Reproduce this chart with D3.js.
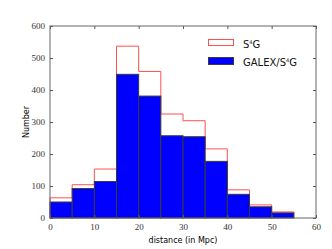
<!DOCTYPE html>
<html>
<head>
<meta charset="utf-8">
<script src="https://cdn.jsdelivr.net/npm/d3@7"></script>
<style>
body { margin: 0; background: #fff; }
svg { display: block; }
.tick text { font-family: "Liberation Serif", "DejaVu Serif", serif; font-size: 9px; fill: #333; }
</style>
</head>
<body>
<div id="container"></div>
<script>
// bin edges in Mpc, width 5
var binStart = [0, 5, 10, 15, 20, 25, 30, 35, 40, 45, 50];
var s4g =      [63, 104, 153, 537, 458, 325, 304, 216, 88, 41, 19];
var galex =    [50, 92, 114, 449, 381, 257, 254, 177, 74, 35, 16];
var xTicks = [0, 10, 20, 30, 40, 50, 60];
var yTicks = [0, 100, 200, 300, 400, 500, 600];
var binWidth = 5;

var width = 332, height = 249;
var margin = {top: 26, right: 16, bottom: 31, left: 50};
var w = width - margin.left - margin.right;
var h = height - margin.top - margin.bottom;

var svg = d3.select("div#container").append("svg")
    .attr("width", width).attr("height", height);
var g = svg.append("g").attr("transform", "translate(" + margin.left + "," + margin.top + ")");

var x = d3.scaleLinear().domain([0, 60]).range([0, w]);
var y = d3.scaleLinear().domain([0, 600]).range([h, 0]);

// step outline for S4G
var stepPts = [[0, 0]];
binStart.forEach(function(b, i) {
    stepPts.push([b, s4g[i]]);
    stepPts.push([b + binWidth, s4g[i]]);
});
stepPts.push([binStart[binStart.length - 1] + binWidth, 0]);
var line = d3.line().x(function(d) { return x(d[0]); }).y(function(d) { return y(d[1]); });

g.append("path")
    .attr("d", line(stepPts))
    .attr("fill", "none")
    .attr("stroke", "#ff5050")
    .attr("stroke-width", 1);

// filled bars for GALEX
g.selectAll("rect.bar")
    .data(galex)
    .enter().append("rect")
    .attr("class", "bar")
    .attr("x", function(d, i) { return x(binStart[i]); })
    .attr("width", function(d, i) { return x(binStart[i] + binWidth) - x(binStart[i]); })
    .attr("y", function(d) { return y(d); })
    .attr("height", function(d) { return h - y(d); })
    .attr("fill", "#0000ff")
    .attr("stroke", "#3a3a3a")
    .attr("stroke-width", 1);

// axes, ticks inward on all four sides
function styleAxis(sel) {
    sel.select(".domain").remove();
    sel.selectAll(".tick line").attr("stroke", "#555");
}
g.append("g").attr("transform", "translate(0," + h + ")")
    .call(d3.axisBottom(x).tickValues(xTicks).tickSize(-3).tickPadding(6))
    .call(styleAxis);
g.append("g")
    .call(d3.axisTop(x).tickValues(xTicks).tickSize(-3).tickFormat(""))
    .call(styleAxis);
g.append("g")
    .call(d3.axisLeft(y).tickValues(yTicks).tickSize(-3).tickPadding(5))
    .call(styleAxis);
g.append("g").attr("transform", "translate(" + w + ",0)")
    .call(d3.axisRight(y).tickValues(yTicks).tickSize(-3).tickFormat(""))
    .call(styleAxis);

g.append("rect")
    .attr("width", w).attr("height", h)
    .attr("fill", "none")
    .attr("stroke", "#666")
    .attr("stroke-width", 1);

// axis labels
svg.append("text")
    .attr("x", margin.left + w / 2)
    .attr("y", 243)
    .attr("text-anchor", "middle")
    .style("font-family", "DejaVu Sans, sans-serif")
    .style("font-size", "8px")
    .text("distance (in Mpc)");

svg.append("text")
    .attr("transform", "translate(29," + (margin.top + h / 2) + ") rotate(-90)")
    .attr("text-anchor", "middle")
    .style("font-family", "DejaVu Sans, sans-serif")
    .style("font-size", "8px")
    .text("Number");

// legend
var legend = svg.append("g");
legend.append("rect")
    .attr("x", 208.5).attr("y", 39.5).attr("width", 25).attr("height", 6)
    .attr("fill", "none").attr("stroke", "#ff5050");
legend.append("rect")
    .attr("x", 208.5).attr("y", 57.5).attr("width", 25).attr("height", 7)
    .attr("fill", "#0000ff").attr("stroke", "#3a3a3a");
var lt1 = legend.append("text")
    .attr("x", 243).attr("y", 47.5)
    .style("font-family", "DejaVu Sans, sans-serif").style("font-size", "10px").style("fill", "#111");
lt1.append("tspan").text("S");
lt1.append("tspan").attr("dy", -4).style("font-size", "5px").text("4");
lt1.append("tspan").attr("dy", 4).text("G");
var lt2 = legend.append("text")
    .attr("x", 243).attr("y", 66)
    .style("font-family", "DejaVu Sans, sans-serif").style("font-size", "10px").style("fill", "#111");
lt2.append("tspan").text("GALEX/S");
lt2.append("tspan").attr("dy", -4).style("font-size", "5px").text("4");
lt2.append("tspan").attr("dy", 4).text("G");
</script>
</body>
</html>
